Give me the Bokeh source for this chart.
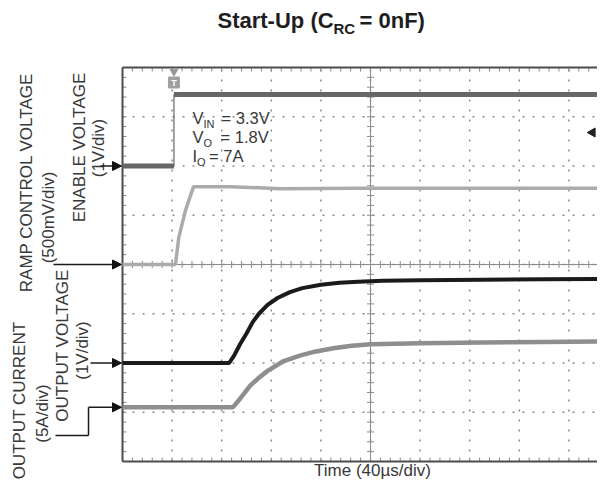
import numpy as np
from bokeh.plotting import figure
from bokeh.models import Label, Arrow, NormalHead, Range1d
from bokeh.embed import file_html
from bokeh.resources import INLINE

# ---------------- data ----------------
title_main = "Start-Up (C"
title_sub = "RC"
title_tail = "= 0nF)"
x_axis_label = "Time (40µs/div)"

time_per_div_us = 40
n_xdiv = 10
n_ydiv = 8
x_start_us = -40.0                       # left edge of the screen, trigger at 0 µs
x_stop_us = x_start_us + n_xdiv * time_per_div_us

channel_names = ["ENABLE VOLTAGE", "RAMP CONTROL VOLTAGE", "OUTPUT VOLTAGE", "OUTPUT CURRENT"]
channel_scale_text = ["(1V/div)", "(500mV/div)", "(1V/div)", "(5A/div)"]
channel_ground_div = [6.0, 4.0, 2.0, 1.1]
channel_units_per_div = [1.0, 0.5, 1.0, 5.0]

enable_t_us = [-40.0, 1.5, 1.5, 356.0]
enable_v = [0.0, 0.0, 1.45, 1.45]

ramp_t_us = [-40.0, 2.7, 5.4, 10.8, 17.3, 47.0, 87.0, 150.0, 250.0, 356.0]
ramp_v = [0.0, 0.0, 0.275, 0.55, 0.79, 0.79, 0.77, 0.775, 0.775, 0.775]

vout_t_us = [-40.0, 46.0, 50.0, 55.0, 60.0, 65.0, 70.0, 77.0, 85.0, 95.0, 105.0,
             120.0, 135.0, 150.0, 170.0, 200.0, 250.0, 300.0, 356.0]
vout_v = [0.0, 0.0, 0.15, 0.39, 0.6, 0.83, 1.0, 1.18, 1.32, 1.44, 1.52,
          1.59, 1.63, 1.65, 1.67, 1.68, 1.69, 1.70, 1.71]

iout_t_us = [-40.0, 49.0, 55.0, 63.0, 70.0, 77.0, 90.0, 103.0, 115.0, 130.0,
             145.0, 160.0, 200.0, 250.0, 300.0, 356.0]
iout_a = [0.0, 0.0, 0.9, 2.2, 3.0, 3.7, 4.7, 5.25, 5.65, 6.0,
          6.25, 6.4, 6.5, 6.58, 6.64, 6.68]

trigger_t_us = 1.5
trigger_level_v = 0.68   # on the enable channel

cond_main = ["V", "V", "I"]
cond_sub = ["IN", "O", "O"]
cond_tail = ["= 3.3V", "= 1.8V", "= 7A"]

# ---------------- layout / styling ----------------
W, H = 597, 483
SCOPE_LEFT, SCOPE_TOP, SCOPE_BOTTOM = 122, 67, 461     # pixels in the figure
PX_DIV_X = 49.6
PX_DIV_Y = (SCOPE_BOTTOM - SCOPE_TOP) / n_ydiv

enable_color = "#676767"
ramp_color = "#ababab"
vout_color = "#1b1b1b"
iout_color = "#8e8e8e"
grid_color = "#8a8a8a"
border_color = "#4d4d4d"
label_color = "#383838"
FONT = "Liberation Sans"

xr = Range1d(x_start_us - SCOPE_LEFT / PX_DIV_X * time_per_div_us,
             x_start_us + (W - SCOPE_LEFT) / PX_DIV_X * time_per_div_us)
yr = Range1d(-(H - SCOPE_BOTTOM) / PX_DIV_Y, n_ydiv + SCOPE_TOP / PX_DIV_Y)

p = figure(width=W, height=H, output_backend="svg", toolbar_location=None,
           x_range=xr, y_range=yr, x_axis_type=None, y_axis_type=None, min_border=0)
p.outline_line_color = None
p.background_fill_color = "white"
p.border_fill_color = "white"
p.grid.visible = False


def to_div(vals, ch):
    return [channel_ground_div[ch] + v / channel_units_per_div[ch] for v in vals]


# ---------------- graticule ----------------
div_x = [x_start_us + i * time_per_div_us for i in range(n_xdiv + 1)]
div_y = list(range(n_ydiv + 1))
minor_x = np.arange(x_start_us, x_stop_us + 0.1, time_per_div_us / 5)
minor_y = np.arange(0, n_ydiv + 0.01, 0.2)
x_center = x_start_us + n_xdiv / 2 * time_per_div_us
y_center = n_ydiv / 2

# dotted grid
p.segment(x0=div_x[1:-1], y0=[0] * (n_xdiv - 1), x1=div_x[1:-1], y1=[n_ydiv] * (n_xdiv - 1),
          line_color=grid_color, line_dash="2 8", line_width=1.5)
p.segment(x0=[x_start_us] * (n_ydiv - 1), y0=div_y[1:-1], x1=[x_stop_us] * (n_ydiv - 1),
          y1=div_y[1:-1], line_color=grid_color, line_dash="2 8", line_width=1.5)

# centre crosshair with ticks
p.segment(x0=[x_center, x_start_us], y0=[0, y_center], x1=[x_center, x_stop_us],
          y1=[n_ydiv, y_center], line_color=grid_color, line_width=1)
p.scatter(minor_x, [y_center] * len(minor_x), marker="dash", size=7, angle=np.pi / 2,
          line_color=grid_color, line_width=1)
p.scatter([x_center] * len(minor_y), minor_y, marker="dash", size=7,
          line_color=grid_color, line_width=1)

# border ticks (pointing inward)
p.ray(x=[x_start_us] * len(minor_y), y=minor_y, length=4, length_units="screen", angle=0,
      line_color=grid_color, line_width=1)
p.ray(x=minor_x, y=[n_ydiv] * len(minor_x), length=4, length_units="screen", angle=-np.pi / 2,
      line_color=grid_color, line_width=1)
p.ray(x=minor_x, y=[0] * len(minor_x), length=4, length_units="screen", angle=np.pi / 2,
      line_color=grid_color, line_width=1)

# border
p.segment(x0=[x_start_us, x_start_us, x_start_us, x_stop_us],
          y0=[0, n_ydiv, 0, 0],
          x1=[x_start_us, x_stop_us, x_stop_us, x_stop_us],
          y1=[n_ydiv, n_ydiv, 0, n_ydiv], line_color=border_color, line_width=2)

# ---------------- traces ----------------
en_y = to_div(enable_v, 0)
seg_w = [1.2 if abs(enable_t_us[i + 1] - enable_t_us[i]) < 1 else 5
         for i in range(len(enable_t_us) - 1)]
p.segment(x0=enable_t_us[:-1], y0=en_y[:-1], x1=enable_t_us[1:], y1=en_y[1:],
          line_color=enable_color, line_width=seg_w)
p.line(ramp_t_us, to_div(ramp_v, 1), line_color=ramp_color, line_width=3.5)
p.line(iout_t_us, to_div(iout_a, 3), line_color=iout_color, line_width=4.5)
p.line(vout_t_us, to_div(vout_v, 2), line_color=vout_color, line_width=4)

# trigger markers
p.scatter([trigger_t_us], [n_ydiv - 4 / PX_DIV_Y], marker="inverted_triangle", size=8,
          fill_color="#9a9a9a", line_color="#9a9a9a")
p.scatter([trigger_t_us], [n_ydiv - 15 / PX_DIV_Y], marker="square", size=11,
          fill_color="#a0a0a0", line_color="#a0a0a0")
p.add_layout(Label(x=trigger_t_us, y=n_ydiv - 15 / PX_DIV_Y, text="T", text_font=FONT,
                   text_font_size="9px", text_font_style="bold", text_color="white",
                   text_align="center", text_baseline="middle"))
p.scatter([xr.end - 5 / PX_DIV_X * time_per_div_us], to_div([trigger_level_v], 0),
          marker="triangle", size=9, angle=np.pi / 2,
          fill_color="#222222", line_color="#222222")


# ---------------- texts ----------------
def lbl(text, px, py, size, **kw):
    opts = dict(text_font=FONT, text_font_size=size, text_color=label_color)
    opts.update(kw)
    p.add_layout(Label(x=px, y=H - py, x_units="screen", y_units="screen", text=text, **opts))


# title
lbl(title_main, 217, 32, "22px", text_font_style="bold", text_color="#1e1e1e")
lbl(title_sub, 333, 36, "15px", text_font_style="bold", text_color="#1e1e1e")
lbl(title_tail, 359, 32, "22px", text_font_style="bold", text_color="#1e1e1e")

# x label
lbl(x_axis_label, 372, 479, "17px", text_align="center")

# test conditions
tail_x = [221, 220, 208.5]
for i in range(3):
    base = 126 + 19 * i
    lbl(cond_main[i], 192, base, "16.5px")
    w_main = 10.9 if cond_main[i] == "V" else 4.6
    lbl(cond_sub[i], 192 + w_main, base + 3, "11px")
    lbl(cond_tail[i], tail_x[i], base, "16.5px")

# vertical channel labels
rot = dict(angle=np.pi / 2, text_align="center", text_baseline="middle")
lbl(channel_names[1], 26, 182, "17px", **rot)
lbl(channel_scale_text[1], 48, 217, "17px", **rot)
lbl(channel_names[0], 79, 147, "17px", **rot)
lbl(channel_scale_text[0], 98, 147.5, "17px", **rot)
lbl(channel_names[3], 19, 400, "17px", **rot)
lbl(channel_scale_text[3], 42, 413, "17px", **rot)
lbl(channel_names[2], 62, 345, "17px", **rot)
lbl(channel_scale_text[2], 82, 350, "17px", **rot)


# ground arrows
def seg(x0, y0, x1, y1, head=True):
    end = NormalHead(size=9, fill_color="#111111", line_color="#111111") if head else None
    p.add_layout(Arrow(x_start=x0, y_start=y0, x_end=x1, y_end=y1, end=end,
                       start_units="data", end_units="data",
                       line_color="#1a1a1a", line_width=1.5))


def px_to_t(px):
    return x_start_us + (px - SCOPE_LEFT) / PX_DIV_X * time_per_div_us


def py_to_div(py):
    return (SCOPE_BOTTOM - py) / PX_DIV_Y


tip = px_to_t(SCOPE_LEFT - 1)
g = channel_ground_div
seg(px_to_t(100), g[0], tip, g[0])
seg(px_to_t(53), g[1], tip, g[1])
seg(px_to_t(90), g[2], tip, g[2])
seg(px_to_t(55), py_to_div(435), px_to_t(88), py_to_div(435), head=False)
seg(px_to_t(88), py_to_div(435), px_to_t(88), g[3], head=False)
seg(px_to_t(88), g[3], tip, g[3])

open("out.html", "w").write(file_html(p, INLINE))
